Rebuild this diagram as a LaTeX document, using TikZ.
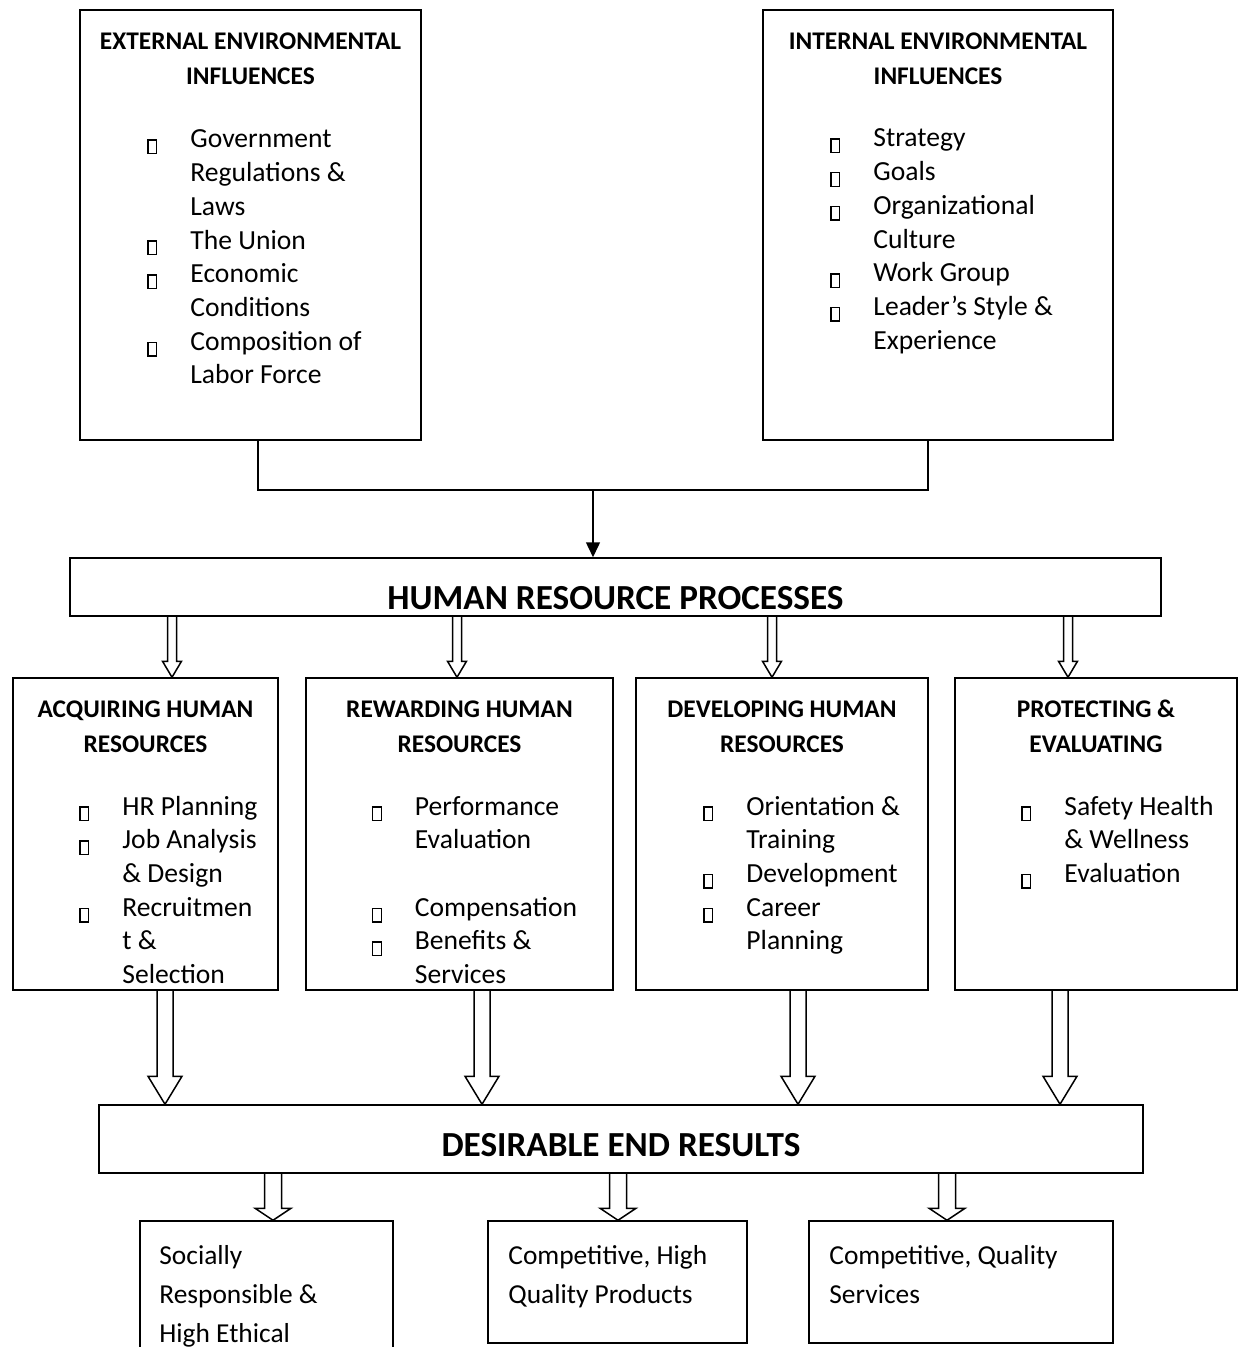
\documentclass[tikz,border=0pt]{standalone}
\usepackage{fontspec}
\setmainfont{Carlito}
\usetikzlibrary{arrows.meta,calc,fit}

\tikzset{
  box/.style={draw, line width=0.75pt, inner sep=0pt},
  head/.style={anchor=base, inner sep=0pt, font=\fontsize{12.7}{17.5}\selectfont\bfseries},
  list/.style={anchor=base west, inner sep=0pt, font=\fontsize{13.8}{16.85}\selectfont},
  title/.style={anchor=base, inner sep=0pt, font=\fontsize{17.6}{20}\selectfont\bfseries},
  res/.style={anchor=base west, inner sep=0pt, font=\fontsize{13.7}{19.5}\selectfont},
  wire/.style={line width=0.75pt},
}
% empty box used as bullet
\newcommand\bul{\raisebox{-2.5pt}{\setlength\fboxsep{0pt}\setlength\fboxrule{0.7pt}\fbox{\rule{0pt}{6.1pt}\hspace{3.6pt}}}}
% hollow block arrow: from, to, half shaft, half head, head length
\newcommand\hollow[5]{\draw[wire] ($(#1)+(-#3,0)$) -- ($(#2)+(-#3,-#5)$) -- ($(#2)+(-#4,-#5)$) -- (#2) -- ($(#2)+(#4,-#5)$) -- ($(#2)+(#3,-#5)$) -- ($(#1)+(#3,0)$);}

\begin{document}
\begin{tikzpicture}[x=0.5pt,y=-0.5pt]
\clip (0,0) rectangle (1239,1347);

% influences
\node[box, fit={(80,10) (421,440)}] (ext) {};
\node[box, fit={(763,10) (1113,440)}] (int) {};
\node[head] (exth) at (250.5,50) {\begin{tabular}[t]{@{}c@{}}EXTERNAL ENVIRONMENTAL\\INFLUENCES\end{tabular}};
\node[head] (inth) at (938,50) {\begin{tabular}[t]{@{}c@{}}INTERNAL ENVIRONMENTAL\\INFLUENCES\end{tabular}};
\node[list] (extl) at (147,148) {\begin{tabular}[t]{@{}p{21.5pt}@{}l@{}}
\bul & Government\\
 & Regulations \&\\
 & Laws\\
\bul & The Union\\
\bul & Economic\\
 & Conditions\\
\bul & Composition of\\
 & Labor Force
\end{tabular}};
\node[list] (intl) at (830,147) {\begin{tabular}[t]{@{}p{21.5pt}@{}l@{}}
\bul & Strategy\\
\bul & Goals\\
\bul & Organizational\\
 & Culture\\
\bul & Work Group\\
\bul & Leader’s Style \&\\
 & Experience
\end{tabular}};

% processes
\node[box, fit={(70,558) (1161,616)}] (hr) {};
\node[title] (hrt) at (615.5,609) {HUMAN RESOURCE PROCESSES};

\coordinate (e) at (258,0);
\coordinate (i) at (928,0);
\coordinate (j) at (593,490);
\draw[wire] (ext.south -| e) |- (j) -| (int.south -| i);
\draw[wire, -{Triangle[length=7.5pt, width=7pt]}] (j) -- (hr.north -| j);

\node[box, fit={(13,678) (278,990)}] (acq) {};
\node[box, fit={(306,678) (613,990)}] (rew) {};
\node[box, fit={(636,678) (928,990)}] (dev) {};
\node[box, fit={(955,678) (1237,990)}] (prot) {};

\node[head] (acqh) at (145.5,717) {\begin{tabular}[t]{@{}c@{}}ACQUIRING HUMAN\\RESOURCES\end{tabular}};
\node[head] (rewh) at (459.5,717) {\begin{tabular}[t]{@{}c@{}}REWARDING HUMAN\\RESOURCES\end{tabular}};
\node[head] (devh) at (782,717) {\begin{tabular}[t]{@{}c@{}}DEVELOPING HUMAN\\RESOURCES\end{tabular}};
\node[head] (proth) at (1096,717) {\begin{tabular}[t]{@{}c@{}}PROTECTING \&\\EVALUATING\end{tabular}};

\node[list] (acql) at (79,815) {\begin{tabular}[t]{@{}p{21.5pt}@{}l@{}}
\bul & HR Planning\\
\bul & Job Analysis\\
 & \& Design\\
\bul & Recruitmen\\
 & t \&\\
 & Selection
\end{tabular}};
\node[list] (rewl) at (371.5,815) {\begin{tabular}[t]{@{}p{21.5pt}@{}l@{}}
\bul & Performance\\
 & Evaluation\\
 & \\
\bul & Compensation\\
\bul & Benefits \&\\
 & Services
\end{tabular}};
\node[list] (devl) at (703,815) {\begin{tabular}[t]{@{}p{21.5pt}@{}l@{}}
\bul & Orientation \&\\
 & Training\\
\bul & Development\\
\bul & Career\\
 & Planning
\end{tabular}};
\node[list] (protl) at (1021,815) {\begin{tabular}[t]{@{}p{21.5pt}@{}l@{}}
\bul & Safety Health\\
 & \& Wellness\\
\bul & Evaluation
\end{tabular}};

\coordinate (a1) at (172,0);
\coordinate (a2) at (457,0);
\coordinate (a3) at (772,0);
\coordinate (a4) at (1068,0);
\hollow{hr.south -| a1}{acq.north -| a1}{4.5}{9.5}{16}
\hollow{hr.south -| a2}{rew.north -| a2}{4.5}{9.5}{16}
\hollow{hr.south -| a3}{dev.north -| a3}{4.5}{9.5}{16}
\hollow{hr.south -| a4}{prot.north -| a4}{4.5}{9.5}{16}

% end results
\node[box, fit={(99,1105) (1143,1173)}] (der) {};
\node[title] (dert) at (621,1156) {DESIRABLE END RESULTS};

\coordinate (b1) at (165,0);
\coordinate (b2) at (482,0);
\coordinate (b3) at (798,0);
\coordinate (b4) at (1060,0);
\hollow{acq.south -| b1}{der.north -| b1}{8}{17}{28}
\hollow{rew.south -| b2}{der.north -| b2}{8}{17}{28}
\hollow{dev.south -| b3}{der.north -| b3}{8}{17}{28}
\hollow{prot.south -| b4}{der.north -| b4}{8}{17}{28}

\node[box, fit={(140,1221) (393,1370)}] (soc) {};
\node[box, fit={(488,1221) (747,1343)}] (prod) {};
\node[box, fit={(809,1221) (1113,1343)}] (serv) {};
\node[res] (soct) at (159,1264) {\begin{tabular}[t]{@{}l@{}}Socially\\Responsible \&\\High Ethical\end{tabular}};
\node[res] (prodt) at (508,1264) {\begin{tabular}[t]{@{}l@{}}Competitive, High\\Quality Products\end{tabular}};
\node[res] (servt) at (829,1264) {\begin{tabular}[t]{@{}l@{}}Competitive, Quality\\Services\end{tabular}};

\coordinate (c1) at (273,0);
\coordinate (c2) at (618,0);
\coordinate (c3) at (947,0);
\hollow{der.south -| c1}{soc.north -| c1}{8.5}{18}{12}
\hollow{der.south -| c2}{prod.north -| c2}{8.5}{18}{12}
\hollow{der.south -| c3}{serv.north -| c3}{8.5}{18}{12}
\end{tikzpicture}
\end{document}
